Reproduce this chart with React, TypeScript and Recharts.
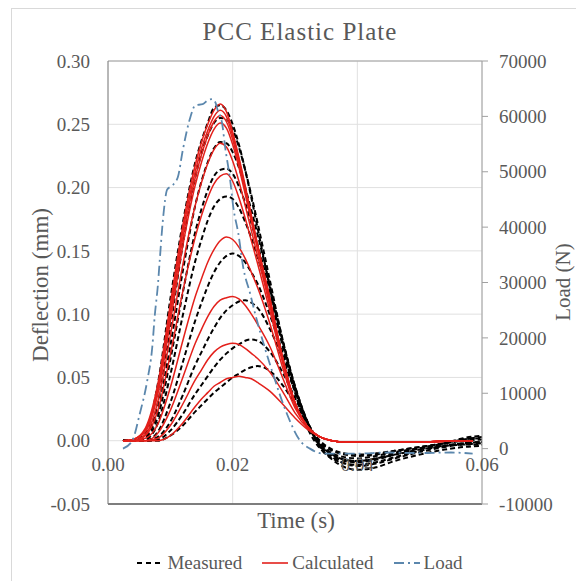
import { LineChart, Line, XAxis, YAxis, CartesianGrid, Legend, ReferenceLine } from "recharts";

const serif = '"Liberation Serif", "Times New Roman", serif';
const textGray = "#595959";

// time axis (s) shared by the calculated curves
const calcTime = [
  0.0024, 0.004, 0.006, 0.008, 0.01, 0.012, 0.014, 0.015, 0.016, 0.017, 0.018, 0.019, 0.02, 0.021, 0.022,
  0.023, 0.024, 0.026, 0.028, 0.03, 0.032, 0.034, 0.036, 0.038, 0.04, 0.043, 0.046, 0.05, 0.054, 0.0585,
];

// calculated deflections (mm)
const calc1 = [0, 0.001, 0.01, 0.045, 0.108, 0.17, 0.218, 0.236, 0.25, 0.261, 0.266, 0.26, 0.244, 0.224, 0.202, 0.178, 0.155, 0.112, 0.066, 0.03, 0.011, 0.003, 0, -0.001, -0.001, -0.001, -0.001, -0.001, -0.0005, 0];
const calc2 = [0, 0.001, 0.009, 0.042, 0.103, 0.165, 0.213, 0.231, 0.245, 0.256, 0.261, 0.256, 0.241, 0.222, 0.2, 0.177, 0.154, 0.111, 0.066, 0.03, 0.011, 0.003, 0, -0.001, -0.001, -0.001, -0.001, -0.001, -0.0005, 0];
const calc3 = [0, 0.001, 0.008, 0.04, 0.099, 0.16, 0.208, 0.226, 0.241, 0.252, 0.257, 0.252, 0.238, 0.219, 0.198, 0.175, 0.153, 0.11, 0.065, 0.03, 0.011, 0.003, 0, -0.001, -0.001, -0.001, -0.001, -0.001, -0.0005, 0];
const calc4 = [0, 0.001, 0.007, 0.037, 0.094, 0.154, 0.202, 0.22, 0.235, 0.246, 0.251, 0.247, 0.234, 0.216, 0.195, 0.173, 0.151, 0.109, 0.065, 0.03, 0.011, 0.003, 0, -0.001, -0.001, -0.001, -0.001, -0.001, -0.0005, 0];
const calc5 = [0, 0, 0.005, 0.031, 0.083, 0.139, 0.186, 0.204, 0.219, 0.23, 0.235, 0.232, 0.221, 0.205, 0.186, 0.166, 0.146, 0.106, 0.064, 0.03, 0.011, 0.003, 0, -0.001, -0.001, -0.001, -0.001, -0.001, -0.0005, 0];
const calc6 = [0, 0, 0.004, 0.024, 0.068, 0.118, 0.161, 0.178, 0.192, 0.203, 0.209, 0.211, 0.205, 0.192, 0.176, 0.158, 0.14, 0.102, 0.062, 0.029, 0.011, 0.003, 0, -0.001, -0.001, -0.001, -0.001, -0.001, -0.0005, 0];
const calc7 = [0, 0, 0.002, 0.013, 0.042, 0.079, 0.114, 0.128, 0.141, 0.151, 0.158, 0.161, 0.159, 0.153, 0.144, 0.133, 0.121, 0.092, 0.058, 0.028, 0.011, 0.003, 0, -0.001, -0.001, -0.001, -0.001, -0.001, -0.0005, 0];
const calc8 = [0, 0, 0, 0.006, 0.024, 0.05, 0.077, 0.088, 0.098, 0.106, 0.111, 0.113, 0.114, 0.112, 0.107, 0.1, 0.092, 0.074, 0.05, 0.026, 0.011, 0.003, 0, -0.001, -0.001, -0.001, -0.001, -0.001, -0.0005, 0];
const calc9 = [0, 0, 0, 0.002, 0.012, 0.029, 0.048, 0.056, 0.064, 0.07, 0.074, 0.076, 0.077, 0.076, 0.073, 0.069, 0.065, 0.054, 0.039, 0.022, 0.01, 0.003, 0, -0.001, -0.001, -0.001, -0.001, -0.001, -0.0005, 0];
const calc10 = [0, 0, 0, 0, 0.004, 0.014, 0.027, 0.033, 0.038, 0.043, 0.046, 0.049, 0.05, 0.051, 0.05, 0.049, 0.046, 0.039, 0.029, 0.018, 0.009, 0.003, 0, -0.001, -0.001, -0.001, -0.001, -0.001, -0.0005, 0];

// time axis (s) shared by the measured curves
const measTime = [
  0.0024, 0.004, 0.006, 0.008, 0.01, 0.012, 0.014, 0.015, 0.016, 0.017, 0.018, 0.019, 0.02, 0.021, 0.022,
  0.023, 0.024, 0.026, 0.028, 0.03, 0.032, 0.034, 0.036, 0.038, 0.04, 0.043, 0.046, 0.05, 0.054, 0.057, 0.06,
];

// measured deflections (mm)
const meas1 = [0, 0, 0.006, 0.045, 0.112, 0.172, 0.22, 0.237, 0.251, 0.263, 0.265, 0.261, 0.25, 0.234, 0.214, 0.192, 0.168, 0.12, 0.075, 0.038, 0.01, -0.006, -0.014, -0.018, -0.019, -0.017, -0.013, -0.008, -0.004, -0.002, -0.001];
const meas2 = [0, 0, 0.004, 0.03, 0.09, 0.155, 0.208, 0.227, 0.241, 0.251, 0.255, 0.254, 0.246, 0.232, 0.214, 0.194, 0.172, 0.126, 0.08, 0.042, 0.014, -0.004, -0.012, -0.016, -0.017, -0.015, -0.011, -0.006, -0.002, 0.001, 0.002];
const meas3 = [0, 0, 0.003, 0.024, 0.075, 0.134, 0.186, 0.205, 0.22, 0.231, 0.236, 0.235, 0.228, 0.216, 0.2, 0.182, 0.163, 0.122, 0.08, 0.043, 0.015, -0.003, -0.011, -0.015, -0.016, -0.014, -0.01, -0.006, -0.002, 0.002, 0.004];
const meas4 = [0, 0, 0.002, 0.019, 0.064, 0.117, 0.165, 0.183, 0.198, 0.209, 0.214, 0.215, 0.211, 0.201, 0.188, 0.172, 0.155, 0.118, 0.079, 0.043, 0.015, -0.004, -0.013, -0.018, -0.02, -0.018, -0.014, -0.009, -0.005, -0.003, -0.003];
const meas5 = [0, 0, 0.001, 0.014, 0.052, 0.099, 0.142, 0.159, 0.174, 0.185, 0.191, 0.193, 0.191, 0.184, 0.173, 0.16, 0.145, 0.112, 0.077, 0.042, 0.014, -0.005, -0.015, -0.021, -0.023, -0.021, -0.016, -0.011, -0.007, -0.005, -0.004];
const meas6 = [0, 0, 0, 0.007, 0.03, 0.062, 0.095, 0.109, 0.122, 0.133, 0.141, 0.146, 0.148, 0.146, 0.141, 0.133, 0.124, 0.099, 0.07, 0.04, 0.014, -0.003, -0.011, -0.015, -0.016, -0.014, -0.011, -0.007, -0.004, -0.002, -0.001];
const meas7 = [0, 0, 0, 0.003, 0.015, 0.036, 0.06, 0.07, 0.08, 0.089, 0.097, 0.103, 0.107, 0.11, 0.111, 0.109, 0.105, 0.088, 0.065, 0.039, 0.015, -0.002, -0.01, -0.013, -0.014, -0.012, -0.009, -0.006, -0.004, -0.003, -0.002];
const meas8 = [0, 0, 0, 0.001, 0.008, 0.021, 0.037, 0.044, 0.051, 0.058, 0.064, 0.069, 0.073, 0.076, 0.079, 0.08, 0.079, 0.07, 0.054, 0.034, 0.014, -0.001, -0.008, -0.011, -0.012, -0.011, -0.008, -0.005, -0.002, 0, 0.001];
const meas9 = [0, 0, 0, 0, 0.004, 0.012, 0.023, 0.028, 0.033, 0.038, 0.042, 0.046, 0.05, 0.053, 0.056, 0.058, 0.059, 0.055, 0.044, 0.029, 0.013, 0, -0.007, -0.01, -0.011, -0.01, -0.008, -0.005, -0.002, 0.001, 0.003];

// load pulse (N), right axis
const loadTime = [
  0.0024, 0.0039, 0.0051, 0.0063, 0.0071, 0.0075, 0.008, 0.0083, 0.0088, 0.0095, 0.0103, 0.0112, 0.012,
  0.0132, 0.014, 0.0152, 0.016, 0.0167, 0.0172, 0.0176, 0.0183, 0.0188, 0.0196, 0.0201, 0.0209, 0.0217,
  0.0228, 0.0236, 0.0263, 0.0287, 0.0308, 0.0324, 0.0345, 0.04, 0.045, 0.05, 0.055, 0.0585,
];
const loadValues = [
  0, 1450, 6300, 12300, 18300, 24000, 29500, 34000, 41200, 46800, 47500, 49000, 53900,
  59800, 62000, 62200, 62900, 63100, 62600, 61100, 58800, 54400, 48500, 43600, 38900, 32700,
  28000, 24400, 14100, 6300, 1450, 0, -900, -900, -700, -800, -700, -900,
];

const deflectionTicks = [-0.05, 0, 0.05, 0.1, 0.15, 0.2, 0.25, 0.3];
const loadTicks = [-10000, 0, 10000, 20000, 30000, 40000, 50000, 60000, 70000];
const timeTicks = [0, 0.02, 0.04, 0.06];

const measuredSeries = [meas1, meas2, meas3, meas4, meas5, meas6, meas7, meas8, meas9];
const calculatedSeries = [calc1, calc2, calc3, calc4, calc5, calc6, calc7, calc8, calc9, calc10];

const toPoints = (time: number[], values: number[]) => time.map((t, i) => ({ t, v: values[i] }));

const tickStyle = { fontSize: 19, fill: textGray, fontFamily: serif };

function TimeTick(props: any) {
  const { x, y, payload } = props;
  // labels sit just under the zero line, as in the original
  return (
    <text x={x} y={y - 33} textAnchor="middle" fontSize={19} fill={textGray} fontFamily={serif}>
      {Number(payload.value).toFixed(2)}
    </text>
  );
}

function AxisTitle({ cx, cy, caption, turn, size = 23 }: { cx: number; cy: number; caption: string; turn?: boolean; size?: number }) {
  return (
    <text
      x={cx}
      y={cy}
      transform={turn ? `rotate(-90 ${cx} ${cy})` : undefined}
      textAnchor="middle"
      dominantBaseline="central"
      fontSize={size}
      fill={textGray}
      fontFamily={serif}
    >
      {caption}
    </text>
  );
}

const legendItems = [
  { name: "Measured", color: "#000", dash: "5 4", width: 2.2 },
  { name: "Calculated", color: "#e3201b", dash: undefined, width: 1.6 },
  { name: "Load", color: "#5b87ad", dash: "10 4 2 4", width: 1.8 },
];

function LegendContent() {
  return (
    <div style={{ display: "flex", justifyContent: "center", gap: 20, fontFamily: serif, fontSize: 19, color: textGray }}>
      {legendItems.map((it) => (
        <div key={it.name} style={{ display: "flex", alignItems: "center", gap: 4 }}>
          <svg width={26} height={10}>
            <line x1={0} y1={5} x2={26} y2={5} stroke={it.color} strokeWidth={it.width} strokeDasharray={it.dash} />
          </svg>
          <span>{it.name}</span>
        </div>
      ))}
    </div>
  );
}

export default function App() {
  return (
    <div style={{ position: "absolute", left: 0, top: 0, width: 576, height: 581, overflow: "hidden", background: "#fff" }}>
      <div
        style={{
          position: "absolute",
          left: 11,
          top: 8,
          width: 600,
          height: 600,
          borderLeft: "1px solid #d9d9d9",
          borderTop: "1px solid #d9d9d9",
        }}
      />
      <div
        style={{
          position: "absolute",
          left: 0,
          width: 600,
          top: 19,
          textAlign: "center",
          fontFamily: serif,
          fontSize: 25,
          lineHeight: "25px",
          letterSpacing: 1,
          color: textGray,
        }}
      >
        PCC Elastic Plate
      </div>
      <LineChart width={576} height={581} margin={{ top: 61, right: 0, bottom: 0, left: 0 }} style={{ position: "absolute", left: 0, top: 0 }}>
        <CartesianGrid yAxisId="l" stroke="#e0e0e0" />
        <XAxis
          dataKey="t"
          type="number"
          domain={[0, 0.06]}
          ticks={timeTicks}
          height={77}
          tickSize={0}
          tickMargin={0}
          tick={<TimeTick />}
          axisLine={{ stroke: "#595959", strokeWidth: 1.3 }}
          label={<AxisTitle cx={296} cy={520} caption="Time (s)" />}
        />
        <YAxis
          yAxisId="l"
          domain={[-0.05, 0.3]}
          ticks={deflectionTicks}
          width={108}
          tickSize={0}
          tickMargin={18}
          tick={tickStyle}
          tickFormatter={(v: number) => v.toFixed(2)}
          axisLine={{ stroke: "#808080" }}
          label={<AxisTitle cx={40} cy={285} caption="Deflection (mm)" turn />}
        />
        <YAxis
          yAxisId="r"
          orientation="right"
          domain={[-10000, 70000]}
          ticks={loadTicks}
          width={94}
          tickSize={6}
          tickMargin={11}
          tick={{ ...tickStyle, textAnchor: "start" }}
          axisLine={{ stroke: "#a0a0a0" }}
          tickLine={{ stroke: "#a0a0a0" }}
          label={<AxisTitle cx={563} cy={282} caption="Load (N)" turn size={21} />}
        />
        <ReferenceLine yAxisId="l" y={0.3} stroke="#a0a0a0" />
        {measuredSeries.map((s, i) => (
          <Line
            key={`m${i}`}
            yAxisId="l"
            data={toPoints(measTime, s)}
            dataKey="v"
            type="monotone"
            stroke="#000"
            strokeWidth={2}
            strokeDasharray="5 3"
            dot={false}
            legendType="none"
            isAnimationActive={false}
          />
        ))}
        {calculatedSeries.map((s, i) => (
          <Line
            key={`c${i}`}
            yAxisId="l"
            data={toPoints(calcTime, s)}
            dataKey="v"
            type="monotone"
            stroke="#e3201b"
            strokeWidth={1.5}
            dot={false}
            legendType="none"
            isAnimationActive={false}
          />
        ))}
        <Line
          yAxisId="r"
          data={toPoints(loadTime, loadValues)}
          dataKey="v"
          type="monotone"
          stroke="#5b87ad"
          strokeWidth={1.8}
          strokeDasharray="10 4 2 4"
          dot={false}
          legendType="none"
          isAnimationActive={false}
        />
        <Legend
          layout="horizontal"
          verticalAlign="middle"
          align="center"
          content={<LegendContent />}
          wrapperStyle={{ position: "absolute", left: 24, top: 552, width: 552, height: 26 }}
        />
      </LineChart>
    </div>
  );
}
